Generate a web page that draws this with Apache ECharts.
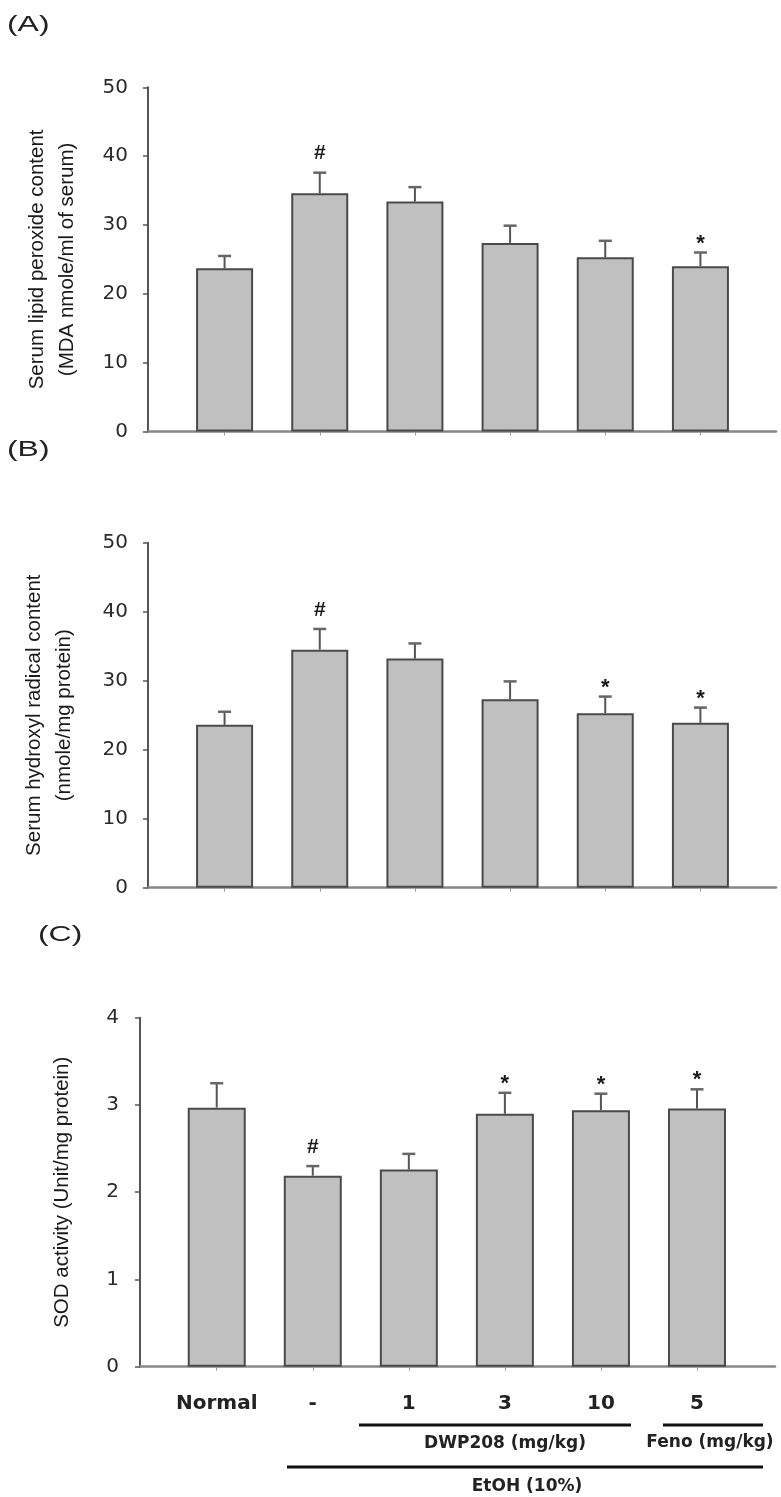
<!DOCTYPE html>
<html><head><meta charset="utf-8">
<script src="https://cdn.jsdelivr.net/npm/echarts@6/dist/echarts.min.js"></script>
<style>html,body{margin:0;padding:0;background:#fff}#c{width:781px;height:1497px}</style>
</head><body><div id="c"></div>
<script>
// ---- data ----
const categories = ['Normal', '-', '1', '3', '10', '5'];
const valuesA = [23.7, 34.6, 33.4, 27.4, 25.3, 24.0];
const errorsA = [1.8, 3.0, 2.1, 2.5, 2.4, 2.0];
const marksA  = ['', '#', '', '', '', '*'];
const valuesB = [23.6, 34.5, 33.2, 27.3, 25.3, 23.9];
const errorsB = [1.9, 3.0, 2.2, 2.6, 2.4, 2.2];
const marksB  = ['', '#', '', '', '*', '*'];
const valuesC = [2.97, 2.19, 2.26, 2.90, 2.94, 2.96];
const errorsC = [0.28, 0.11, 0.18, 0.24, 0.19, 0.22];
const marksC  = ['', '#', '', '*', '*', '*'];
const ticksAB = [0, 10, 20, 30, 40, 50];
const ticksC  = [0, 1, 2, 3, 4];
const titleA = 'Serum lipid peroxide content\n(MDA nmole/ml of serum)';
const titleB = 'Serum hydroxyl radical content\n(nmole/mg protein)';
const titleC = 'SOD activity (Unit/mg protein)';

// ---- layout ----
const panels = [
  {values: valuesA, errors: errorsA, marks: marksA, ticks: ticksAB, name: titleA,
   top: 87.3, height: 344.2, left: 177, right: 33, axisX: 148, lineRight: 5, nameGap: 66, showLabels: false, margin: 20, barWidth: 57},
  {values: valuesB, errors: errorsB, marks: marksB, ticks: ticksAB, name: titleB,
   top: 542.7, height: 345, left: 177, right: 33, axisX: 148, lineRight: 5, nameGap: 69, showLabels: false, margin: 20, barWidth: 57},
  {values: valuesC, errors: errorsC, marks: marksC, ticks: ticksC, name: titleC,
   top: 1017.8, height: 348.9, left: 168.7, right: 36, axisX: 140, lineRight: 6, nameGap: 63, showLabels: true, margin: 21, barWidth: 58}
];

const grid = [], xAxis = [], yAxis = [], series = [];
panels.forEach((p, i) => {
  grid.push({left: p.left, right: p.right, top: p.top, height: p.height});
  xAxis.push({
    type: 'category', gridIndex: i, data: categories,
    axisLine: {show: false},
    axisTick: {show: true, alignWithLabel: true, length: 4, lineStyle: {color: '#999', width: 1}},
    axisLabel: {show: p.showLabels, interval: 0, hideOverlap: false, fontFamily: 'DejaVu Sans', fontWeight: 'bold', fontSize: 20, color: '#222', margin: 27}
  });
  yAxis.push({
    type: 'value', gridIndex: i,
    min: p.ticks[0], max: p.ticks[p.ticks.length - 1], interval: p.ticks[1] - p.ticks[0],
    offset: p.left - p.axisX,
    axisLine: {show: true, lineStyle: {color: '#555', width: 2}},
    axisTick: {show: true, length: 5, lineStyle: {color: '#555', width: 1.5}},
    axisLabel: {fontFamily: 'DejaVu Sans', fontSize: 20, color: '#2a2a2a', margin: p.margin},
    splitLine: {show: false},
    name: p.name, nameLocation: 'middle', nameGap: p.nameGap, nameRotate: 90,
    nameTextStyle: {fontFamily: 'Liberation Sans', fontSize: 20.5, lineHeight: 30, color: '#1a1a1a'}
  });
  series.push({
    type: 'bar', xAxisIndex: i, yAxisIndex: i, data: p.values, barWidth: p.barWidth, silent: true,
    itemStyle: {color: '#c0c0c0', borderColor: '#4a4a4a', borderWidth: 2}, z: 2
  });
  const marks = p.marks;
  series.push({
    type: 'custom', xAxisIndex: i, yAxisIndex: i, silent: true, z: 3,
    data: p.values.map((v, k) => [k, v, p.errors[k]]),
    encode: {x: 0, y: 1},
    renderItem: function (params, api) {
      const k = api.value(0), v = api.value(1), e = api.value(2);
      const top = api.coord([k, v]);
      const cap = api.coord([k, v + e]);
      const children = [
        {type: 'line', shape: {x1: top[0], y1: top[1], x2: cap[0], y2: cap[1]}, style: {stroke: '#555', lineWidth: 2}},
        {type: 'line', shape: {x1: cap[0] - 6.5, y1: cap[1], x2: cap[0] + 6.5, y2: cap[1]}, style: {stroke: '#666', lineWidth: 2.5}}
      ];
      const m = marks[params.dataIndex];
      if (m === '#') {
        children.push({type: 'text', x: cap[0], y: cap[1] - 19,
          style: {text: '#', font: 'bold 21px "Liberation Sans"', fill: '#1a1a1a', align: 'center', verticalAlign: 'middle'}});
      } else if (m === '*') {
        children.push({type: 'text', x: cap[0], y: cap[1] - 9,
          style: {text: '*', font: 'bold 22px "Liberation Sans"', fill: '#1a1a1a', align: 'center', verticalAlign: 'middle'}});
      }
      return {type: 'group', children: children};
    }
  });
});
// extended x-axis baselines
panels.forEach((p, i) => {
  const gi = panels.length + i;
  grid.push({left: p.axisX, right: p.lineRight, top: p.top, height: p.height});
  xAxis.push({type: 'value', gridIndex: gi, min: 0, max: 1,
    axisLine: {show: true, onZero: false, lineStyle: {color: '#888', width: 2.5}},
    axisTick: {show: false}, axisLabel: {show: false}, splitLine: {show: false}});
  yAxis.push({type: 'value', gridIndex: gi, show: false, min: 0, max: 1});
});

const panelLabel = (t, x, y) => ({type: 'text', x: x, y: y, scaleX: 1.45, silent: true,
  style: {text: t, font: '22px "Liberation Sans"', fill: '#222', align: 'left', verticalAlign: 'middle'}});
const groupText = (t, x, y) => ({type: 'text', x: x, y: y, silent: true,
  style: {text: t, font: 'bold 17px "DejaVu Sans"', fill: '#222', align: 'center', verticalAlign: 'middle'}});
const hline = (x1, x2, y) => ({type: 'line', silent: true, shape: {x1: x1, y1: y, x2: x2, y2: y},
  style: {stroke: '#111', lineWidth: 3}});

const chart = echarts.init(document.getElementById('c'), null, {renderer: 'canvas'});
chart.setOption({
  animation: false,
  backgroundColor: '#fff',
  grid: grid, xAxis: xAxis, yAxis: yAxis, series: series,
  graphic: [
    panelLabel('(A)', 7, 25),
    panelLabel('(B)', 7, 450),
    panelLabel('(C)', 38, 935),
    hline(359, 631, 1425),
    hline(663, 763, 1425),
    hline(287, 763, 1467),
    groupText('DWP208 (mg/kg)', 505, 1444),
    groupText('Feno (mg/kg)', 710, 1443),
    groupText('EtOH (10%)', 527, 1487)
  ]
});
</script></body></html>
